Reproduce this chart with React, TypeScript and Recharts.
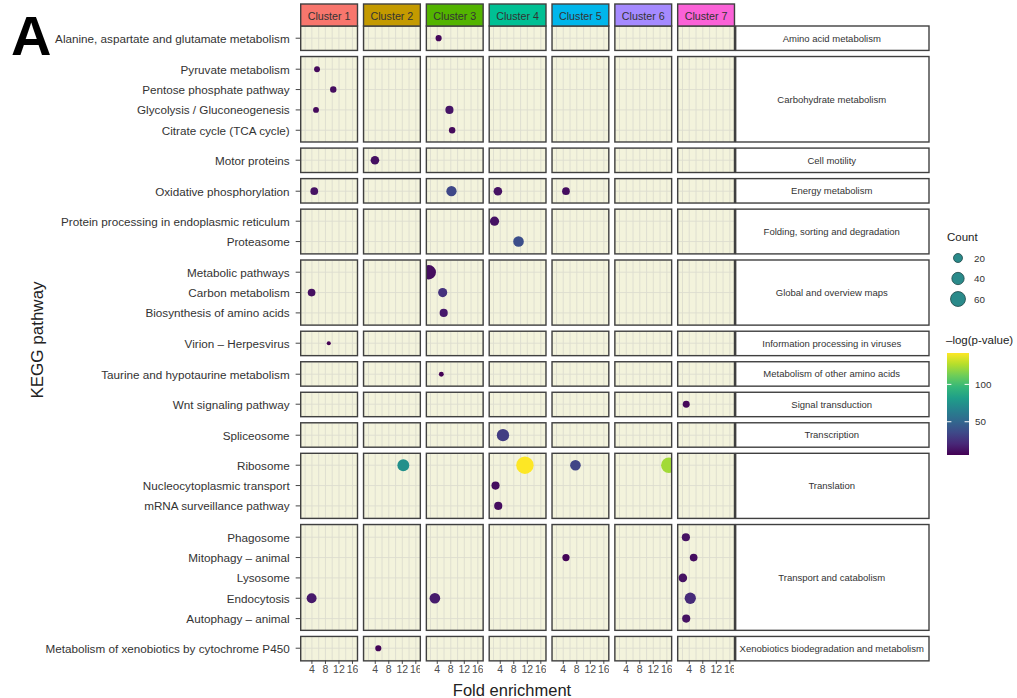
import React from 'react';
import { ScatterChart, Scatter, XAxis, YAxis, ZAxis, CartesianGrid, Cell } from 'recharts';

const FONT = '"Liberation Sans", Arial, Helvetica, sans-serif';

// ---------- data ----------
const clusters = ['Cluster 1', 'Cluster 2', 'Cluster 3', 'Cluster 4', 'Cluster 5', 'Cluster 6', 'Cluster 7'];
const clusterColors = ['#F8766D', '#C49A00', '#53B400', '#00C094', '#00B6EB', '#A58AFF', '#FB61D7'];

const categories = [
  'Amino acid metabolism',
  'Carbohydrate metabolism',
  'Cell motility',
  'Energy metabolism',
  'Folding, sorting and degradation',
  'Global and overview maps',
  'Information processing in viruses',
  'Metabolism of other amino acids',
  'Signal transduction',
  'Transcription',
  'Translation',
  'Transport and catabolism',
  'Xenobiotics biodegradation and metabolism',
];

const pathways = [
  'Alanine, aspartate and glutamate metabolism',
  'Pyruvate metabolism',
  'Pentose phosphate pathway',
  'Glycolysis / Gluconeogenesis',
  'Citrate cycle (TCA cycle)',
  'Motor proteins',
  'Oxidative phosphorylation',
  'Protein processing in endoplasmic reticulum',
  'Proteasome',
  'Metabolic pathways',
  'Carbon metabolism',
  'Biosynthesis of amino acids',
  'Virion – Herpesvirus',
  'Taurine and hypotaurine metabolism',
  'Wnt signaling pathway',
  'Spliceosome',
  'Ribosome',
  'Nucleocytoplasmic transport',
  'mRNA surveillance pathway',
  'Phagosome',
  'Mitophagy – animal',
  'Lysosome',
  'Endocytosis',
  'Autophagy – animal',
  'Metabolism of xenobiotics by cytochrome P450',
];
const pathwayCategory = [0, 1, 1, 1, 1, 2, 3, 4, 4, 5, 5, 5, 6, 7, 8, 9, 10, 10, 10, 11, 11, 11, 11, 11, 12];

const pointPathway = [0, 1, 2, 3, 3, 4, 5, 6, 6, 6, 6, 7, 8, 9, 10, 10, 11, 12, 13, 14, 15, 16, 16, 16, 16, 17, 18, 19, 20, 20, 21, 22, 22, 22, 23, 24];
const pointCluster = [2, 0, 0, 0, 2, 2, 1, 0, 2, 3, 4, 3, 3, 2, 0, 2, 2, 0, 2, 6, 3, 1, 3, 4, 5, 3, 3, 6, 4, 6, 6, 0, 2, 6, 6, 1];
const foldEnrichment = [4.4, 5.5, 10.3, 5.2, 7.6, 8.4, 3.9, 4.7, 8.2, 3.3, 4.8, 2.3, 9.4, 1.5, 3.9, 5.6, 5.9, 9.0, 5.2, 3.1, 4.8, 12.3, 11.3, 7.6, 16.6, 2.6, 3.4, 3.0, 4.8, 5.3, 2.1, 3.9, 3.3, 4.3, 3.1, 4.9];
const geneCount = [8, 7, 9, 7, 16, 9, 18, 14, 27, 18, 14, 21, 29, 55, 14, 21, 16, 2, 4, 11, 40, 37, 82, 29, 65, 16, 16, 16, 12, 14, 18, 25, 29, 33, 16, 8];
const negLogP = [8, 9, 10, 9, 13, 9, 11, 12, 35, 12, 10, 12, 38, 10, 11, 25, 15, 5.5, 6, 8, 30, 74, 142, 33, 123, 10, 10, 12, 7, 10, 12, 15, 16, 22, 12, 7];

const xTicks = [4, 8, 12, 16];
const xGrid = [2, 4, 6, 8, 10, 12, 14, 16];
const xDomain: [number, number] = [0.67, 17.47];
const countBreaks = [20, 40, 60];
const pBreaks = [50, 100];
const countDomain: [number, number] = [2, 92];
const pDomain: [number, number] = [5.5, 142];

// ---------- style / layout ----------
const AREA_RANGE: [number, number] = [13, 265];
const PANEL_LEFT0 = 300.7;
const PANEL_PITCH = 62.83;
const PANEL_W = 56.8;
const ROW_TOP0 = 26;
const UNIT = 20.35;
const ROW_GAP = 6.1;
const PANEL_BG = '#F3F3DC';
const GRID = '#DDDDCF';
const BORDER = '#404040';

const VIRIDIS = ['#440154', '#482878', '#3E4A89', '#31688E', '#26828E', '#1F9E89', '#35B779', '#6DCD59', '#B4DE2C', '#FDE725'];
function hexToRgb(h: string) {
  return [parseInt(h.slice(1, 3), 16), parseInt(h.slice(3, 5), 16), parseInt(h.slice(5, 7), 16)];
}
function viridis(t: number) {
  const c = Math.max(0, Math.min(1, t)) * (VIRIDIS.length - 1);
  const i = Math.min(VIRIDIS.length - 2, Math.floor(c));
  const f = c - i;
  const a = hexToRgb(VIRIDIS[i]);
  const b = hexToRgb(VIRIDIS[i + 1]);
  const m = a.map((v, k) => Math.round(v + (b[k] - v) * f));
  return `rgb(${m[0]},${m[1]},${m[2]})`;
}
const pColor = (v: number) => viridis((v - pDomain[0]) / (pDomain[1] - pDomain[0]));
const countDiameter = (c: number) => {
  const area = AREA_RANGE[0] + ((c - countDomain[0]) / (countDomain[1] - countDomain[0])) * (AREA_RANGE[1] - AREA_RANGE[0]);
  return 2 * Math.sqrt(area / Math.PI);
};

const pathwaysOfCategory = categories.map((_, ci) => pathways.filter((_, i) => pathwayCategory[i] === ci));
const rowN = pathwaysOfCategory.map((a) => a.length);
const rowH = rowN.map((n) => (n + 0.2) * UNIT);
const rowTop: number[] = [];
rowH.reduce((acc, h, i) => {
  rowTop[i] = acc;
  return acc + h + ROW_GAP;
}, ROW_TOP0);
const panelLeft = (c: number) => PANEL_LEFT0 + c * PANEL_PITCH;
const X_AXIS_H = 24;
const X_TICK_SIZE = 3.5;
const X_TICK_MARGIN = 2;

function XTick(props: any) {
  const { x, y, payload } = props;
  if (!xTicks.includes(payload.value)) return <g />;
  const top = y - X_TICK_SIZE - X_TICK_MARGIN;
  return (
    <g>
      <line x1={x} x2={x} y1={top} y2={top + X_TICK_SIZE} stroke="#444" strokeWidth={1} />
      <text x={x} y={y} dy="0.71em" textAnchor="middle" fontSize={10.5} fill="#4D4D4D" fontFamily={FONT}>
        {payload.value}
      </text>
    </g>
  );
}

function makeYTick(paths: string[]) {
  return (props: any) => {
    const { x, y, payload } = props;
    return (
      <text x={x} y={y} textAnchor="end" dominantBaseline="central" fontSize={11.7} fill="#333" fontFamily={FONT}>
        {paths[payload.value] ?? ''}
      </text>
    );
  };
}

function Panel({ row, col }: { row: number; col: number }) {
  const paths = pathwaysOfCategory[row];
  const n = paths.length;
  const isFirst = col === 0;
  const isLast = row === categories.length - 1;
  const yW = isFirst ? PANEL_LEFT0 : 0;
  const w = PANEL_W + yW;
  const h = rowH[row] + (isLast ? X_AXIS_H : 0);
  const data = pointPathway
    .map((p, i) => ({ p, i }))
    .filter((o) => pathwayCategory[o.p] === row && pointCluster[o.i] === col)
    .map((o) => ({
      fe: foldEnrichment[o.i],
      idx: paths.indexOf(pathways[o.p]),
      count: geneCount[o.i],
      lp: negLogP[o.i],
    }));
  const yTicks = paths.map((_, i) => i);
  return (
    <div style={{ position: 'absolute', left: isFirst ? 0 : panelLeft(col), top: rowTop[row] }}>
      <ScatterChart width={w} height={h} margin={{ top: 0, right: 0, bottom: 0, left: 0 }}>
        <CartesianGrid fill={PANEL_BG} stroke={GRID} strokeWidth={0.9} />
        <XAxis
          type="number"
          dataKey="fe"
          domain={xDomain}
          ticks={xGrid}
          interval={0}
          hide={!isLast}
          allowDataOverflow
          height={X_AXIS_H}
          axisLine={false}
          tickLine={false}
          tickSize={X_TICK_SIZE}
          tickMargin={X_TICK_MARGIN}
          tick={XTick}
        />
        <YAxis
          type="number"
          dataKey="idx"
          domain={[-0.6, n - 0.4]}
          ticks={yTicks}
          interval={0}
          reversed
          allowDataOverflow
          hide={!isFirst}
          width={yW}
          axisLine={false}
          tickSize={5}
          tickMargin={6}
          tickLine={{ stroke: '#444', strokeWidth: 1 }}
          tick={makeYTick(paths)}
        />
        <ZAxis type="number" dataKey="count" domain={countDomain} range={AREA_RANGE} />
        <Scatter data={data} isAnimationActive={false}>
          {data.map((d, i) => (
            <Cell key={i} fill={pColor(d.lp)} />
          ))}
        </Scatter>
      </ScatterChart>
    </div>
  );
}

export default function App() {
  const stripRight = panelLeft(6) + PANEL_W;
  const cbX = 947, cbY = 353, cbW = 22, cbH = 102;
  const cbYOf = (v: number) => cbY + cbH - ((v - pDomain[0]) / (pDomain[1] - pDomain[0])) * cbH;
  return (
    <div style={{ position: 'absolute', left: 0, top: 0, width: 1017, height: 698, background: '#fff', fontFamily: FONT }}>
      {categories.map((_, r) => clusters.map((_, c) => <Panel key={`${r}-${c}`} row={r} col={c} />))}
      <svg width={1017} height={698} style={{ position: 'absolute', left: 0, top: 0, pointerEvents: 'none' }} fontFamily={FONT}>
        <defs>
          <linearGradient id="vir" x1="0" y1="1" x2="0" y2="0">
            {VIRIDIS.map((c, i) => (
              <stop key={i} offset={i / (VIRIDIS.length - 1)} stopColor={c} />
            ))}
          </linearGradient>
        </defs>
        {/* panel borders */}
        {categories.map((_, r) =>
          clusters.map((_, c) => (
            <rect key={`b${r}-${c}`} x={panelLeft(c)} y={rowTop[r]} width={PANEL_W} height={rowH[r]} fill="none" stroke={BORDER} strokeWidth={1.4} />
          ))
        )}
        {/* top strips */}
        {clusters.map((name, c) => (
          <g key={`s${c}`}>
            <rect x={panelLeft(c)} y={4} width={PANEL_W} height={ROW_TOP0 - 4} fill={clusterColors[c]} stroke={BORDER} strokeWidth={1.4} />
            <text x={panelLeft(c) + PANEL_W / 2} y={15.5} textAnchor="middle" dominantBaseline="central" fontSize={10.7} fill="#333">
              {name}
            </text>
          </g>
        ))}
        {/* right strips */}
        {categories.map((name, r) => (
          <g key={`rs${r}`}>
            <rect x={stripRight + 1.2} y={rowTop[r]} width={929 - stripRight - 1.2} height={rowH[r]} fill="#fff" stroke={BORDER} strokeWidth={1.4} />
            <text x={(stripRight + 929) / 2} y={rowTop[r] + rowH[r] / 2} textAnchor="middle" dominantBaseline="central" fontSize={9.5} fill="#333">
              {name}
            </text>
          </g>
        ))}
        {/* titles */}
        <text x={11} y={55} fontSize={56} fontWeight="bold" fill="#000">A</text>
        <text x={37} y={340} fontSize={17} fill="#222" textAnchor="middle" dominantBaseline="central" transform="rotate(-90 37 340)">
          KEGG pathway
        </text>
        <text x={512} y={690} fontSize={16.5} fill="#222" textAnchor="middle" dominantBaseline="central">
          Fold enrichment
        </text>
        {/* size legend */}
        <text x={947} y={237} fontSize={11.5} fill="#222" dominantBaseline="central">Count</text>
        {countBreaks.map((c, i) => (
          <g key={`cl${i}`}>
            <circle cx={958} cy={258 + i * 20.5} r={countDiameter(c) / 2} fill="#2A8A8A" stroke="#1E4848" strokeWidth={0.8} />
            <text x={974} y={258 + i * 20.5} fontSize={9.8} fill="#333" dominantBaseline="central">{c}</text>
          </g>
        ))}
        {/* colour legend */}
        <text x={946} y={340} fontSize={11.5} fill="#222" dominantBaseline="central">–log(p-value)</text>
        <rect x={cbX} y={cbY} width={cbW} height={cbH} fill="url(#vir)" />
        {pBreaks.map((v, i) => (
          <g key={`pb${i}`}>
            <line x1={cbX} x2={cbX + cbW / 5} y1={cbYOf(v)} y2={cbYOf(v)} stroke="#fff" strokeWidth={1} />
            <line x1={cbX + cbW - cbW / 5} x2={cbX + cbW} y1={cbYOf(v)} y2={cbYOf(v)} stroke="#fff" strokeWidth={1} />
            <text x={975} y={cbYOf(v)} fontSize={9.8} fill="#333" dominantBaseline="central">{v}</text>
          </g>
        ))}
      </svg>
    </div>
  );
}
